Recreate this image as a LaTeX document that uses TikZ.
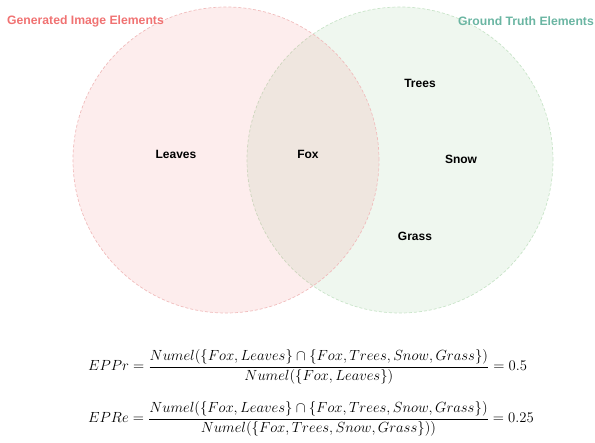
\RequirePackage{fix-cm}
\documentclass[tikz,border=0pt]{standalone}
\usepackage{amsmath}
\usepackage[no-math]{fontspec}
\newfontfamily\vennfont{Liberation Sans}
\definecolor{genred}{HTML}{F07272}
\definecolor{gtgreen}{HTML}{6AB5A2}
\definecolor{genfill}{HTML}{F08080}
\definecolor{gtfill}{HTML}{90C890}
\definecolor{genline}{HTML}{F0BCBC}
\definecolor{gtline}{HTML}{C8E4C8}
\begin{document}
\begin{tikzpicture}[x=1pt,y=-1pt,
                      set/.style={circle,minimum size=306pt,inner sep=0pt,dash pattern=on 3pt off 2pt,line width=.7pt,fill opacity=.14},
                      title/.style={inner sep=0pt,font=\vennfont\bfseries\fontsize{12.2}{14}\selectfont},
                      item/.style={inner sep=0pt,font=\vennfont\bfseries\fontsize{12}{14}\selectfont},
                      formula/.style={inner sep=0pt,anchor=west,font=\fontsize{14.7}{18}\selectfont}
                    ]
                    \useasboundingbox (0,0) rectangle (595,443);

                    \node[set,draw=gtline,fill=gtfill] (gt) at (400,160) {};
                    \node[set,draw=genline,fill=genfill] (gen) at (226,160) {};

                    \node[title,text=genred,anchor=west] (gentitle) at (7,21) {Generated Image Elements};
                    \node[title,text=gtgreen,anchor=east] (gttitle) at (594,21) {Ground Truth Elements};

                    \foreach \lbl/\x/\y in {Leaves/176/154,Fox/308/154,Trees/420/83,Snow/461/159,Grass/415/236} {
                        \node[item] (\lbl) at (\x,\y) {\lbl};
                      }

                    \node[formula] (eppr) at (88,367) {$EPPr = \dfrac{Numel(\{Fox, Leaves\} \cap \{Fox, Trees, Snow, Grass\})}{Numel(\{Fox, Leaves\})} = 0.5$};
                    \node[formula] (epre) at (88,419) {$EPRe = \dfrac{Numel(\{Fox, Leaves\} \cap \{Fox, Trees, Snow, Grass\})}{Numel(\{Fox, Trees, Snow, Grass\}))} = 0.25$};
                  \end{tikzpicture}
\end{document}
